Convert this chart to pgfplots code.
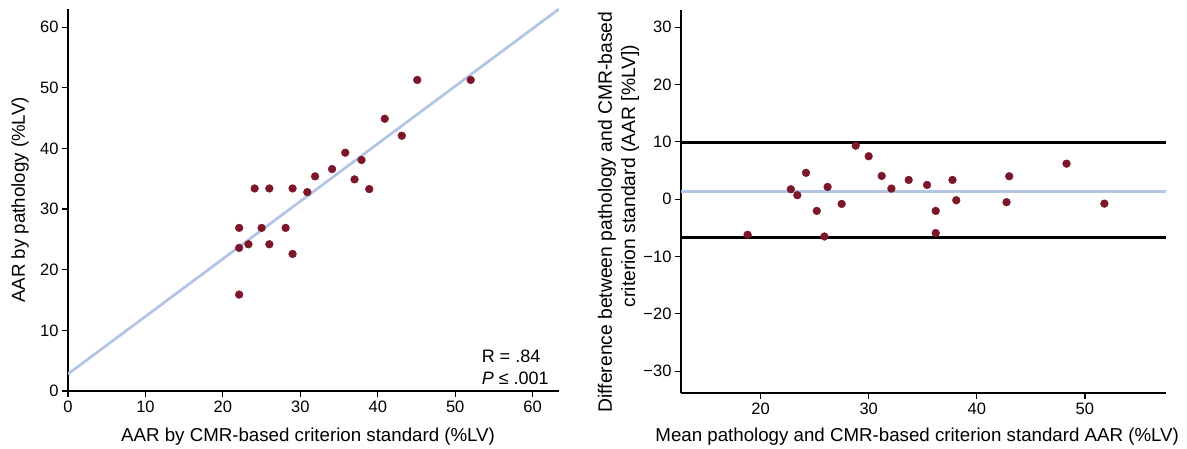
\documentclass[border=0pt]{standalone}
\usepackage{pgfplots}
\pgfplotsset{compat=1.18}
\usepackage{fontspec}
\setmainfont{Liberation Sans}
\definecolor{dotred}{HTML}{7B1728}
\definecolor{lineblue}{HTML}{B3C6E7}
\pgfplotsset{myax/.style={scale only axis, anchor=south west,
  axis x line*=bottom, axis y line*=left, tick align=outside,
  major tick length=6pt, every tick/.style={black, line width=1.2pt},
  axis line style={black, line width=1.2pt},
  /pgf/number format/assume math mode=true,
  tick label style={font=\fontsize{16.5}{18}\selectfont},
  label style={font=\fontsize{18.7}{21}\selectfont},
  minor tick num=0, clip mode=individual}}
\begin{document}
\begin{tikzpicture}
\path[use as bounding box] (0,0) rectangle (1187pt,449pt);
\begin{axis}[myax, at={(68pt,58pt)}, width=491pt, height=382pt,
  xmin=0, xmax=63.4, ymin=0, ymax=63,
  xtick={0,10,...,60}, ytick={0,10,...,60},
  xlabel={AAR by CMR-based criterion standard (\%LV)},
  ylabel={AAR by pathology (\%LV)},
  xlabel style={at={(axis description cs:0.489,-0.120)}, anchor=center},
  ylabel style={at={(axis description cs:-0.0978,0.5)}, anchor=center}]
\addplot[lineblue, line width=2.8pt] coordinates {(0,2.8) (63.4,63.0)};
\addplot[only marks, mark=*, mark size=3.9pt, dotred, mark options={draw=dotred, fill=dotred}] coordinates {
(22.1,26.9) (22.1,23.6) (23.3,24.2) (25.0,26.9) (26.0,24.2) (28.1,26.9)
(29.0,22.6) (22.1,15.9) (24.1,33.4) (26.0,33.4) (29.0,33.4) (30.9,32.8)
(31.9,35.4) (34.1,36.6) (35.8,39.3) (37.9,38.1) (37.0,34.9) (38.9,33.3)
(40.9,44.9) (43.1,42.1) (45.1,51.3) (52.0,51.3)};
\node[anchor=west, font=\fontsize{18}{20}\selectfont, inner sep=0pt] at (axis cs:53.4,5.8) {R = .84};
\node[anchor=west, font=\fontsize{18}{20}\selectfont, inner sep=0pt] at (axis cs:53.4,2.1) {\textit{P} ≤ .001};
\end{axis}
\begin{axis}[myax, at={(681pt,56pt)}, width=485pt, height=383pt,
  xmin=12.64, xmax=57.5, ymin=-33.8, ymax=33.0,
  xtick={20,30,40,50}, ytick={-30,-20,-10,0,10,20,30},
  yticklabels={−30,−20,−10,0,10,20,30},
  xlabel={Mean pathology and CMR-based criterion standard AAR (\%LV)},
  ylabel={Difference between pathology and CMR-based},
  xlabel style={at={(axis description cs:0.487,-0.115)}, anchor=center},
  ylabel style={at={(axis description cs:-0.1526,0.4726)}, anchor=center, font=\fontsize{19.3}{21}\selectfont}]
\addplot[black, line width=3pt] coordinates {(12.64,9.93) (57.5,9.93)};
\addplot[black, line width=3pt] coordinates {(12.64,-6.74) (57.5,-6.74)};
\addplot[lineblue, line width=2.8pt] coordinates {(12.64,1.32) (57.5,1.32)};
\addplot[only marks, mark=*, mark size=3.9pt, dotred, mark options={draw=dotred, fill=dotred}] coordinates {
(18.8,-6.2) (22.8,1.74) (23.4,0.70) (24.2,4.6) (25.2,-2.04) (25.9,-6.5)
(26.2,2.14) (27.5,-0.82) (28.8,9.34) (30.0,7.49) (31.2,4.06) (32.1,1.85)
(33.7,3.36) (35.4,2.49) (36.2,-2.04) (36.2,-5.9) (37.75,3.36) (38.1,-0.18)
(42.75,-0.52) (43.0,4.0) (48.3,6.2) (51.8,-0.77)};
\node[rotate=90, anchor=center, font=\fontsize{19.3}{21}\selectfont] at (axis description cs:-0.105,0.5666) {criterion standard (AAR [\%LV])};
\end{axis}
\end{tikzpicture}
\end{document}
